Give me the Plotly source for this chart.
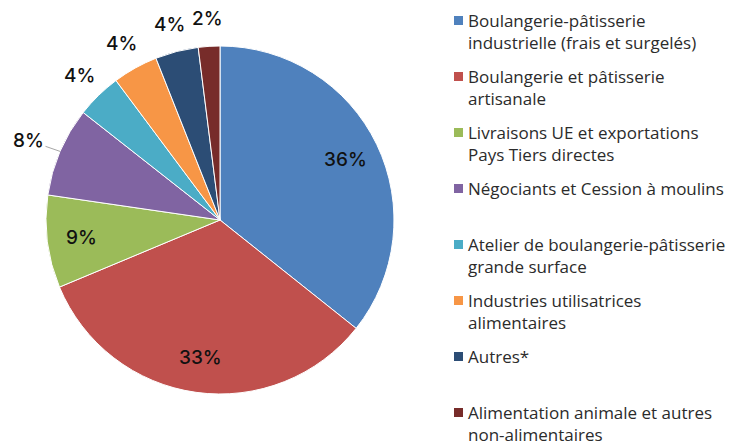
import math
import plotly.graph_objects as go

categories = [
    "Boulangerie-pâtisserie<br>industrielle (frais et surgelés)",
    "Boulangerie et pâtisserie<br>artisanale",
    "Livraisons UE et exportations<br>Pays Tiers directes",
    "Négociants et Cession à moulins",
    "Atelier de boulangerie-pâtisserie<br>grande surface",
    "Industries utilisatrices<br>alimentaires",
    "Autres*",
    "Alimentation animale et autres<br>non-alimentaires",
]
# shares (%); labels show them rounded
values = [35.7, 33.0, 8.6, 8.3, 4.2, 4.2, 4.0, 2.0]
colors = ["#4F81BD", "#C0504D", "#9BBB59", "#8064A2", "#4BACC6", "#F79646", "#2C4D75", "#772C2A"]
label_inside = [True, True, True, False, False, False, False, False]

W, H = 742, 447
cx, cy, r = 220, 220, 174
legend_top_px = 20.5
legend_slot_px = 56
legend_font = 17
legend_line_px = legend_font * 1.3

fig = go.Figure()
fig.add_trace(go.Pie(
    labels=categories,
    values=values,
    sort=False,
    direction="clockwise",
    rotation=0,
    marker=dict(colors=colors, line=dict(color="white", width=1)),
    textinfo="none",
    domain=dict(x=[(cx - r) / W, (cx + r) / W], y=[(H - cy - r) / H, (H - cy + r) / H]),
    showlegend=False,
    hoverinfo="label+percent",
))

# percentage labels placed along each slice's mid-angle
total = sum(values)
cum = 0.0
for i, (v, inside) in enumerate(zip(values, label_inside)):
    mid = (cum + v / 2) / total * 2 * math.pi
    cum += v
    rf = 0.8 if inside else 1.16
    lx = cx + rf * r * math.sin(mid)
    ly = cy - rf * r * math.cos(mid)
    txt = f"{round(v)}%"
    font = dict(family="Inter", size=19, color="#111111", weight=500)
    if i == 3:  # leader line for the purple slice
        ex = cx + r * math.sin(mid)
        ey = cy - r * math.cos(mid)
        fig.add_annotation(x=ex / W, y=(H - ey) / H, xref="paper", yref="paper",
                           text=txt, showarrow=True, arrowhead=0, arrowwidth=1,
                           arrowcolor="#A6A6A6", ax=lx - ex - 6, ay=ly - ey,
                           font=font)
    else:
        fig.add_annotation(x=lx / W, y=(H - ly) / H, xref="paper", yref="paper",
                           xanchor="center", yanchor="middle",
                           text=txt, showarrow=False, font=font)

# legend drawn manually to reproduce fixed slot spacing
for k, (lab, col) in enumerate(zip(categories, colors)):
    ypx = legend_top_px + k * legend_slot_px
    nlines = lab.count("<br>") + 1
    fig.add_shape(type="rect", xref="paper", yref="paper",
                  x0=454 / W, x1=463 / W, y0=(H - ypx - 4.5) / H, y1=(H - ypx + 4.5) / H,
                  fillcolor=col, line=dict(width=0))
    yc = ypx + (nlines - 1) * legend_line_px / 2
    fig.add_annotation(x=467 / W, y=(H - yc) / H,
                       xref="paper", yref="paper",
                       text=lab, showarrow=False, xanchor="left", yanchor="middle",
                       align="left", borderpad=0,
                       font=dict(family="Open Sans", size=legend_font, color="#2b2b2b"))

fig.update_layout(
    width=W, height=H,
    margin=dict(l=0, r=0, t=0, b=0),
    paper_bgcolor="white", plot_bgcolor="white",
)
fig.write_html("out.html", config={"displayModeBar": False},
               post_script="document.body.style.margin='0px';")
